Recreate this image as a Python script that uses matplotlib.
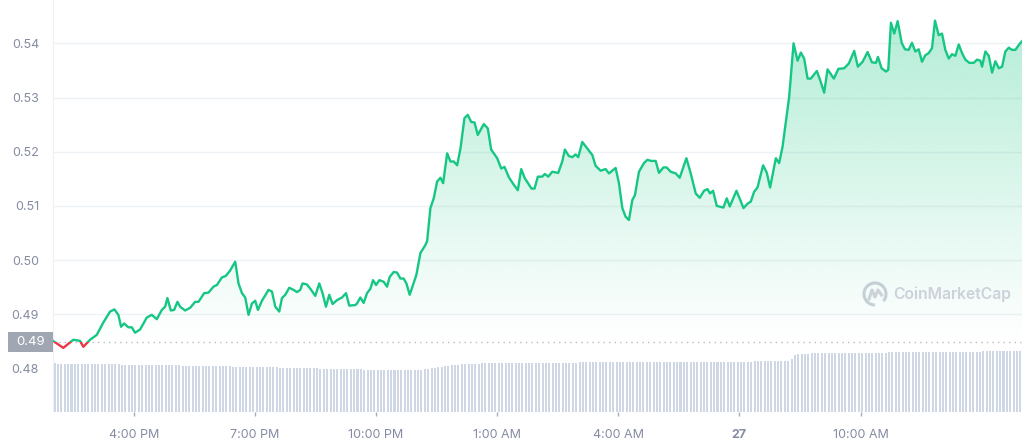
import matplotlib
matplotlib.use("Agg")
import matplotlib.pyplot as plt
import matplotlib.patches as mpatches
import matplotlib.transforms as mtransforms
import numpy as np

plt.rcParams['font.family'] = ['Inter', 'DejaVu Sans']

# hours after 2:00 PM (day 26) and price in USD
hours = [
    0.00, 0.255, 0.503, 0.669, 0.751, 0.917, 1.084, 1.240, 1.413, 1.520,
    1.619, 1.686, 1.760, 1.867, 1.951, 2.033, 2.157, 2.323, 2.447, 2.571,
    2.695, 2.777, 2.834, 2.918, 3.000, 3.082, 3.149, 3.273, 3.397, 3.521,
    3.603, 3.744, 3.851, 3.975, 4.059, 4.183, 4.282, 4.389, 4.513, 4.595,
    4.680, 4.761, 4.843, 4.927, 5.009, 5.076, 5.175, 5.338, 5.423, 5.505,
    5.604, 5.671, 5.753, 5.852, 5.958, 6.043, 6.124, 6.181, 6.290, 6.395,
    6.496, 6.595, 6.677, 6.760, 6.843, 6.925, 7.032, 7.158, 7.257, 7.338,
    7.488, 7.530, 7.612, 7.694, 7.778, 7.860, 7.927, 8.001, 8.083, 8.190,
    8.274, 8.339, 8.438, 8.522, 8.604, 8.686, 8.753, 8.835, 9.001, 9.100,
    9.224, 9.266, 9.348, 9.430, 9.514, 9.596, 9.663, 9.762, 9.844, 9.926,
    10.010, 10.092, 10.191, 10.273, 10.357, 10.439, 10.521, 10.670, 10.769, 10.853,
    11.002, 11.101, 11.183, 11.290, 11.413, 11.513, 11.597, 11.686, 11.852, 11.927,
    12.008, 12.117, 12.182, 12.266, 12.365, 12.514, 12.613, 12.678, 12.777, 12.861,
    12.943, 13.010, 13.109, 13.233, 13.357, 13.439, 13.563, 13.687, 13.769, 13.935,
    14.017, 14.101, 14.183, 14.265, 14.349, 14.414, 14.513, 14.637, 14.721, 14.820,
    14.927, 15.009, 15.118, 15.200, 15.299, 15.423, 15.522, 15.688, 15.795, 15.919,
    16.018, 16.125, 16.209, 16.274, 16.348, 16.440, 16.606, 16.688, 16.762, 16.928,
    17.102, 17.201, 17.283, 17.365, 17.449, 17.588, 17.680, 17.761, 17.903, 17.985,
    18.069, 18.151, 18.233, 18.342, 18.441, 18.523, 18.604, 18.689, 18.770, 18.919,
    19.001, 19.100, 19.184, 19.340, 19.452, 19.596, 19.712, 19.844, 19.935, 20.052,
    20.176, 20.283, 20.382, 20.432, 20.523, 20.630, 20.687, 20.754, 20.836, 20.920,
    21.020, 21.101, 21.193, 21.275, 21.357, 21.441, 21.523, 21.605, 21.689, 21.771,
    21.845, 21.937, 22.019, 22.101, 22.185, 22.267, 22.349, 22.433, 22.515, 22.597,
    22.696, 22.805, 22.887, 22.969, 23.011, 23.093, 23.177, 23.259, 23.341, 23.425,
    23.507, 23.588, 23.673, 23.754, 23.836, 23.921, 24.000,
]
price = [
    0.4851, 0.4838, 0.4853, 0.4851, 0.4840, 0.4853, 0.4862, 0.4884, 0.4905, 0.4909,
    0.4899, 0.4877, 0.4883, 0.4876, 0.4876, 0.4866, 0.4872, 0.4894, 0.4899, 0.4891,
    0.4908, 0.4914, 0.4930, 0.4907, 0.4908, 0.4923, 0.4914, 0.4907, 0.4912, 0.4923,
    0.4923, 0.4939, 0.4940, 0.4951, 0.4954, 0.4968, 0.4971, 0.4981, 0.4997, 0.4957,
    0.4939, 0.4931, 0.4899, 0.4920, 0.4925, 0.4908, 0.4925, 0.4945, 0.4942, 0.4914,
    0.4905, 0.4930, 0.4936, 0.4949, 0.4945, 0.4941, 0.4945, 0.4957, 0.4955, 0.4945,
    0.4934, 0.4957, 0.4939, 0.4914, 0.4936, 0.4919, 0.4926, 0.4931, 0.4939, 0.4916,
    0.4917, 0.4920, 0.4931, 0.4921, 0.4939, 0.4947, 0.4963, 0.4954, 0.4963, 0.4960,
    0.4951, 0.4969, 0.4978, 0.4977, 0.4966, 0.4966, 0.4957, 0.4936, 0.4973, 0.5013,
    0.5028, 0.5035, 0.5096, 0.5114, 0.5145, 0.5152, 0.5142, 0.5197, 0.5182, 0.5182,
    0.5175, 0.5206, 0.5262, 0.5268, 0.5255, 0.5254, 0.5231, 0.5251, 0.5243, 0.5204,
    0.5188, 0.5169, 0.5172, 0.5153, 0.5139, 0.5129, 0.5168, 0.5151, 0.5132, 0.5132,
    0.5154, 0.5154, 0.5159, 0.5154, 0.5163, 0.5161, 0.5182, 0.5204, 0.5192, 0.5190,
    0.5195, 0.5190, 0.5218, 0.5206, 0.5194, 0.5174, 0.5165, 0.5168, 0.5160, 0.5170,
    0.5142, 0.5096, 0.5080, 0.5074, 0.5111, 0.5120, 0.5163, 0.5179, 0.5185, 0.5183,
    0.5183, 0.5161, 0.5171, 0.5171, 0.5163, 0.5160, 0.5152, 0.5188, 0.5160, 0.5123,
    0.5115, 0.5128, 0.5131, 0.5123, 0.5128, 0.5100, 0.5097, 0.5114, 0.5099, 0.5128,
    0.5096, 0.5104, 0.5108, 0.5126, 0.5134, 0.5175, 0.5161, 0.5134, 0.5188, 0.5179,
    0.5209, 0.5255, 0.5301, 0.5400, 0.5368, 0.5383, 0.5372, 0.5335, 0.5335, 0.5349,
    0.5332, 0.5309, 0.5352, 0.5335, 0.5353, 0.5354, 0.5363, 0.5386, 0.5357, 0.5366,
    0.5384, 0.5365, 0.5364, 0.5375, 0.5354, 0.5348, 0.5351, 0.5438, 0.5418, 0.5441,
    0.5401, 0.5389, 0.5388, 0.5401, 0.5385, 0.5389, 0.5366, 0.5378, 0.5382, 0.5391,
    0.5442, 0.5415, 0.5418, 0.5388, 0.5372, 0.5380, 0.5377, 0.5398, 0.5382, 0.5370,
    0.5364, 0.5364, 0.5370, 0.5368, 0.5357, 0.5385, 0.5377, 0.5346, 0.5367, 0.5354,
    0.5357, 0.5385, 0.5392, 0.5388, 0.5388, 0.5397, 0.5404,
]

# 5-minute volume bars (millions), 2 h per row
volume = [
    49, 48, 48, 48, 48, 48, 48, 48, 48, 48, 48, 48, 48, 48, 48, 48, 48, 48, 48, 48, 47, 47, 47, 47,
    47, 47, 47, 47, 47, 47, 47, 47, 47, 47, 47, 47, 47, 47, 46, 46, 46, 46, 46, 46, 46, 46, 46, 46,
    46, 46, 46, 46, 46, 45, 45, 45, 45, 45, 45, 45, 45, 45, 45, 45, 45, 45, 45, 44, 44, 44, 44, 44,
    44, 44, 44, 44, 44, 44, 44, 43, 43, 43, 43, 43, 43, 43, 43, 43, 43, 43, 43, 43, 42, 42, 42, 42,
    42, 42, 42, 42, 42, 42, 42, 42, 42, 42, 42, 42, 42, 42, 43, 43, 44, 44, 45, 45, 46, 46, 47, 47,
    47, 48, 48, 48, 48, 48, 48, 49, 49, 49, 49, 49, 49, 49, 49, 49, 49, 49, 49, 49, 49, 49, 49, 49,
    49, 49, 49, 49, 49, 49, 49, 49, 49, 49, 49, 49, 50, 50, 50, 50, 50, 50, 50, 50, 50, 50, 50, 50,
    50, 50, 50, 50, 50, 50, 50, 50, 50, 50, 50, 50, 50, 50, 50, 50, 50, 50, 50, 50, 50, 50, 50, 50,
    50, 50, 50, 50, 50, 50, 50, 50, 50, 50, 50, 50, 50, 50, 50, 50, 51, 51, 51, 51, 51, 51, 51, 51,
    51, 51, 51, 53, 57, 58, 58, 58, 58, 59, 59, 59, 59, 59, 59, 59, 59, 59, 59, 59, 59, 59, 59, 59,
    59, 59, 59, 59, 59, 59, 59, 59, 60, 60, 60, 60, 60, 60, 60, 60, 60, 60, 60, 60, 60, 60, 60, 60,
    60, 60, 60, 60, 60, 60, 60, 60, 60, 60, 60, 60, 61, 61, 61, 61, 61, 61, 61, 61, 61, 61, 61, 61,
]

open_price = 0.4849
yticks = [0.48, 0.49, 0.50, 0.51, 0.52, 0.53, 0.54]
xtick_hours = [2, 5, 8, 11, 14, 17, 20]
xtick_labels = ['4:00 PM', '7:00 PM', '10:00 PM', '1:00 AM', '4:00 AM', '27', '10:00 AM']

green = '#16c784'
red = '#ea3943'
grey_txt = '#858ca2'

fig = plt.figure(figsize=(10.24, 4.41), dpi=100)
ax = fig.add_axes([53 / 1024, 29 / 441, 969 / 1024, 412 / 441])
ax2 = ax.twinx()
ax.set_zorder(ax2.get_zorder() + 1)
ax.patch.set_visible(False)

ymin, ymax = 0.47197, 0.548
ax.set_xlim(0, 24)
ax.set_ylim(ymin, ymax)

# volume bars
vt = np.arange(len(volume)) * 24 / len(volume) + 24 / len(volume) / 2
ax2.bar(vt, volume, width=24 / len(volume) * 0.6, color='#cfd6e4', linewidth=0)
ax2.set_ylim(0, max(volume) * 6.75)
ax2.set_yticks([])
for s in ax2.spines.values():
    s.set_visible(False)

# grid
for yv in yticks[1:]:
    ax.axhline(yv, color='#eff2f5', lw=1, zorder=0)

hx = np.array(hours)
py = np.array(price)

# gradient fill between line and open price
poly = ax.fill_between(hx, py, open_price, color='none', lw=0)
grad = np.linspace(0.0, 0.34, 256).reshape(-1, 1)
rgba = np.zeros((256, 1, 4))
rgba[..., 0] = 22 / 255
rgba[..., 1] = 199 / 255
rgba[..., 2] = 132 / 255
rgba[..., 3] = grad
img = ax.imshow(rgba, extent=[0, 24, open_price, ymax], origin='lower',
                aspect='auto', zorder=1, interpolation='bilinear')
clip = poly.get_paths()[0]
img.set_clip_path(clip, transform=ax.transData)
ax.set_xlim(0, 24)
ax.set_ylim(ymin, ymax)

# price line: green above open, red below
up = ax.plot(hx, py, color=green, lw=1.7, zorder=3, solid_joinstyle='round')[0]
dn = ax.plot(hx, py, color=red, lw=1.7, zorder=3, solid_joinstyle='round')[0]
up.set_clip_path(mpatches.Rectangle((0, open_price), 24, ymax - open_price,
                                    transform=ax.transData))
dn.set_clip_path(mpatches.Rectangle((0, ymin), 24, open_price - ymin,
                                    transform=ax.transData))

ax.axhline(open_price, color='#b6bcc8', lw=1, ls=(0, (1, 3)), zorder=2)

# axes styling
for k in ['top', 'right', 'bottom']:
    ax.spines[k].set_visible(False)
ax.spines['left'].set_color('#eff2f5')
ax.set_yticks(yticks)
ax.set_yticklabels(['%.2f' % v for v in yticks])
ax.tick_params(axis='y', length=0, pad=10, labelsize=9, labelcolor=grey_txt)
ax.set_xticks(xtick_hours)
ax.set_xticklabels(xtick_labels)
ax.tick_params(axis='x', length=3, width=1, color='#a6adbb', pad=9,
               labelsize=9, labelcolor=grey_txt)
for lab in ax.get_xticklabels():
    if lab.get_text() == '27':
        lab.set_fontweight('bold')

# open price tag
trans = mtransforms.blended_transform_factory(fig.transFigure, ax.transData)
h_px = 20
h_data = h_px * (ymax - ymin) / 412
ax.add_artist(mpatches.Rectangle((8 / 1024, open_price - h_data / 2), 45 / 1024, h_data,
                                 transform=trans, facecolor='#a0a6b2', edgecolor='none',
                                 clip_on=False, zorder=5))
ax.text(30.5 / 1024, open_price, '0.49', transform=trans, ha='center', va='center',
        color='white', fontsize=9.5, zorder=6, clip_on=False)

# watermark
wm = '#cdd1da'
cx, cy = 875 / 100, (441 - 294) / 100
arc = mpatches.Arc((cx, cy), 0.22, 0.22, theta1=-40, theta2=270,
                   transform=fig.dpi_scale_trans, color=wm, lw=2.2)
fig.add_artist(arc)
mx = np.array([-0.06, -0.03, 0.0, 0.03, 0.065])
my = np.array([-0.05, 0.04, -0.03, 0.04, -0.01])
fig.add_artist(plt.Line2D(cx + mx, cy + my, transform=fig.dpi_scale_trans,
                          color=wm, lw=2.2, solid_joinstyle='round'))
fig.text(893 / 1024, 1 - 294 / 441, 'CoinMarketCap', color=wm, fontsize=11.3,
         fontweight='semibold', ha='left', va='center')

fig.savefig('out.png', dpi=100)
